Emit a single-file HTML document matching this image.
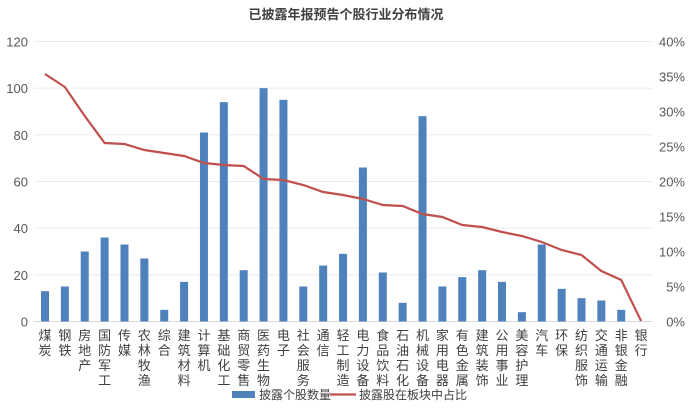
<!DOCTYPE html><html><head><meta charset="utf-8"><style>body{margin:0;background:#fff}svg{display:block;font-family:"Liberation Sans","Noto Sans CJK SC",sans-serif}</style></head><body>
<svg width="692" height="410" id="s"></svg>
<script>
const s=document.getElementById('s');let h='';
h+='<text x="346" y="19" text-anchor="middle" font-size="13" font-weight="bold" fill="#404040">已披露年报预告个股行业分布情况</text>';
const y0=321.5,k=280/120;
for(let i=0;i<=6;i++){const y=y0-i*20*k;if(i>0)h+=`<line x1="34" x2="652" y1="${y}" y2="${y}" stroke="#ebebeb"/>`;
h+=`<text x="28" y="${y+5}" text-anchor="end" font-size="13" fill="#595959">${i*20}</text>`;}
for(let i=0;i<=8;i++){const y=y0-i*35;h+=`<text x="685" y="${y+5}" text-anchor="end" font-size="13" fill="#595959">${i*5}%</text>`;}
h+=`<line x1="34" x2="652" y1="${y0}" y2="${y0}" stroke="#d9d9d9"/>`;
const c="煤炭,钢铁,房地产,国防军工,传媒,农林牧渔,综合,建筑材料,计算机,基础化工,商贸零售,医药生物,电子,社会服务,通信,轻工制造,电力设备,食品饮料,石油石化,机械设备,家用电器,有色金属,建筑装饰,公用事业,美容护理,汽车,环保,纺织服饰,交通运输,非银金融,银行".split(',');
const v=[13,15,30,36,33,27,5,17,81,94,22,100,95,15,24,29,66,21,8,88,15,19,22,17,4,33,14,10,9,5,0];
const ly=[74,87,116,143,144,150,153,156,163,165,166,179,180,185,192,195,199,205,206,214,217,225,227,232,236,242,250,255,271,280,321];
let pts=[];
c.forEach((n,i)=>{const x=45+i*19.87;const bh=v[i]*k;
if(bh>0)h+=`<rect x="${x-4}" y="${y0-bh}" width="8" height="${bh}" fill="#4f81bd"/>`;
pts.push(x+','+ly[i]);
[...n].forEach((ch,j)=>{h+=`<text x="${x}" y="${340+j*15}" text-anchor="middle" font-size="13" fill="#404040">${ch}</text>`});});
h+=`<polyline points="${pts.join(' ')}" fill="none" stroke="#c0504d" stroke-width="2.2"/>`;
h+='<rect x="232" y="391" width="23" height="7" fill="#4f81bd"/><text x="259" y="399" font-size="12" fill="#404040">披露个股数量</text>';
h+='<line x1="330" x2="356" y1="394.5" y2="394.5" stroke="#c0504d" stroke-width="2.2"/><text x="359" y="399" font-size="12" fill="#404040">披露股在板块中占比</text>';
s.innerHTML=h;
</script></body></html>
